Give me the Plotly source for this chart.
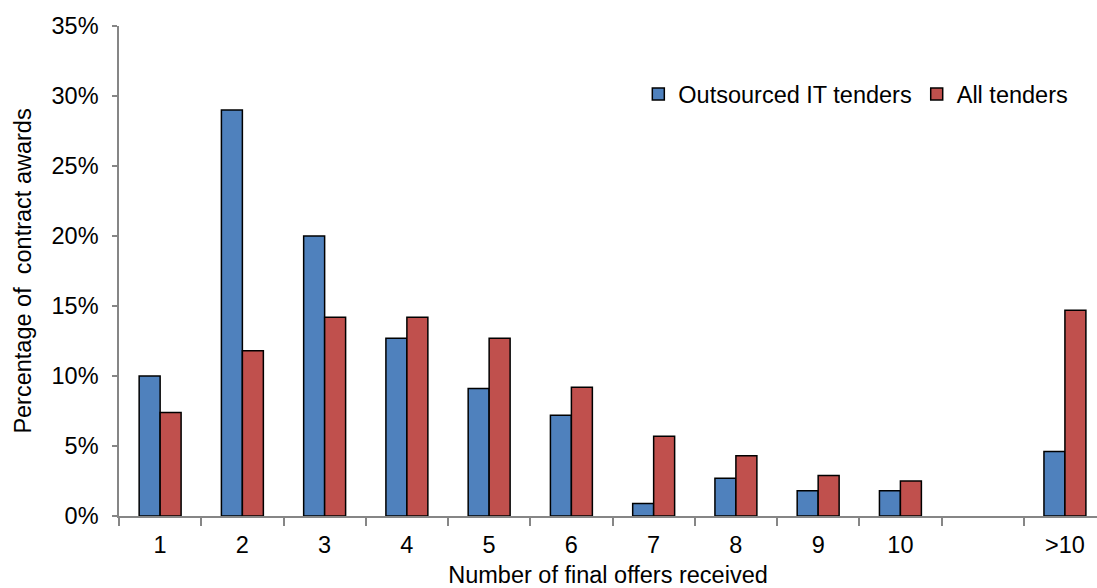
import plotly.graph_objects as go

# Number of final offers received (blank slot separates 10 from >10)
categories = ["1", "2", "3", "4", "5", "6", "7", "8", "9", "10", " ", ">10"]

# Share of contract awards, in percent
outsourced_it = [10.0, 29.0, 20.0, 12.7, 9.1, 7.2, 0.9, 2.7, 1.8, 1.8, None, 4.6]
all_tenders = [7.4, 11.8, 14.2, 14.2, 12.7, 9.2, 5.7, 4.3, 2.9, 2.5, None, 14.7]

y_ticks = [0, 5, 10, 15, 20, 25, 30, 35]
y_tick_labels = [f"{v}%" for v in y_ticks]

FONT = "Liberation Sans, Arial, sans-serif"
FS = 23.5
AXIS_GREY = "#868686"

fig = go.Figure()
fig.add_trace(go.Bar(
    name="Outsourced IT tenders", x=categories, y=outsourced_it,
    marker=dict(color="#4F81BD", line=dict(color="#000000", width=1.5)),
))
fig.add_trace(go.Bar(
    name="All tenders", x=categories, y=all_tenders,
    marker=dict(color="#C0504D", line=dict(color="#000000", width=1.5)),
))

fig.update_layout(
    width=1097, height=588,
    margin=dict(l=119, r=0, t=26, b=72),
    paper_bgcolor="white", plot_bgcolor="white",
    font=dict(family=FONT, size=FS, color="#000000"),
    barmode="group", bargap=0.49, bargroupgap=0,
    showlegend=True,
    legend=dict(
        orientation="h", x=0.531, y=0.861, xanchor="left", yanchor="middle",
        font=dict(family=FONT, size=FS), itemwidth=30,
        bgcolor="rgba(0,0,0,0)", traceorder="normal",
    ),
    xaxis=dict(
        type="category", categoryorder="array", categoryarray=categories,
        range=[-0.5, 11.39], tickson="boundaries",
        showline=True, linecolor=AXIS_GREY, linewidth=1.5,
        ticks="outside", ticklen=8, tickwidth=1.5, tickcolor=AXIS_GREY,
        ticklabelstandoff=7,
        showgrid=False, zeroline=False,
        tickfont=dict(family=FONT, size=FS),
        title=dict(text="Number of final offers received",
                   font=dict(family=FONT, size=FS), standoff=15),
    ),
    yaxis=dict(
        range=[0, 35], tickvals=y_ticks, ticktext=y_tick_labels,
        showline=True, linecolor=AXIS_GREY, linewidth=1.5,
        ticks="outside", ticklen=5, tickwidth=1.5, tickcolor=AXIS_GREY,
        ticklabelstandoff=9,
        showgrid=False, zeroline=False,
        tickfont=dict(family=FONT, size=FS),
        title=dict(text="Percentage of  contract awards",
                   font=dict(family=FONT, size=FS), standoff=13),
    ),
)

fig.write_html("out.html")
